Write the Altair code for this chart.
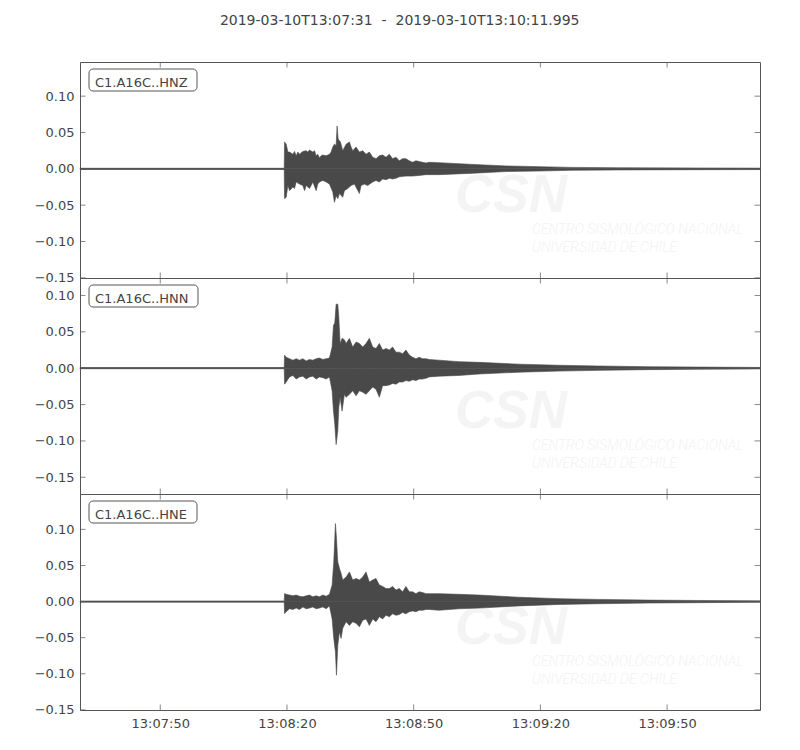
import altair as alt
import pandas as pd

# ---------------- data ----------------
title_text = "2019-03-10T13:07:31\u00a0\u00a0-\u00a0\u00a02019-03-10T13:10:11.995"
channels = ["C1.A16C..HNZ", "C1.A16C..HNN", "C1.A16C..HNE"]
box_widths = [108, 109, 108]

# equal-scale y limits of the three panels
y_domains = [[-0.1502, 0.147], [-0.173, 0.124], [-0.1502, 0.149]]
y_tick_values = [-0.15, -0.10, -0.05, 0.0, 0.05, 0.10]

# seconds after 13:07:31 (13:07:50, 13:08:20, 13:08:50, 13:09:20, 13:09:50)
x_tick_seconds = [19, 49, 79, 109, 139]

# envelopes: (seconds after 13:07:31, amplitude)
hnz_upper = [
    (0, 0.0008), (48.35, 0.0008), (48.43, 0.037), (48.82, 0.034), (49.22, 0.023),
    (49.61, 0.023), (50.40, 0.020), (50.79, 0.024), (51.19, 0.018), (51.58, 0.023),
    (51.97, 0.020), (52.76, 0.024), (53.55, 0.025), (53.94, 0.023), (54.34, 0.026),
    (55.12, 0.023), (55.52, 0.025), (55.91, 0.018), (56.31, 0.020), (56.70, 0.015),
    (57.09, 0.018), (57.49, 0.019), (58.27, 0.018), (59.06, 0.020), (59.45, 0.023),
    (59.85, 0.030), (60.24, 0.034), (60.64, 0.032), (60.87, 0.059), (61.11, 0.041),
    (61.66, 0.037), (62.21, 0.025), (63.00, 0.034), (63.79, 0.037), (64.18, 0.030),
    (64.57, 0.025), (65.36, 0.030), (66.15, 0.023), (66.94, 0.025), (67.72, 0.020),
    (68.51, 0.023), (69.30, 0.016), (70.08, 0.014), (70.87, 0.018), (71.66, 0.019),
    (72.45, 0.016), (73.23, 0.020), (74.02, 0.014), (74.81, 0.016), (75.60, 0.011),
    (76.38, 0.014), (77.17, 0.014), (77.96, 0.011), (78.75, 0.009), (79.53, 0.011),
    (80.32, 0.010), (81.11, 0.009), (81.90, 0.008), (82.68, 0.009), (85.0, 0.0085),
    (93.3, 0.006), (100.9, 0.004), (108.7, 0.003), (116.5, 0.002), (127.6, 0.0015),
    (146.5, 0.0012), (161.0, 0.001),
]
hnz_lower = [
    (0, -0.0008), (48.35, -0.0008), (48.43, -0.041), (48.82, -0.039), (49.22, -0.023),
    (49.61, -0.030), (50.40, -0.025), (50.79, -0.027), (51.19, -0.018), (51.97, -0.021),
    (52.76, -0.023), (53.16, -0.030), (53.55, -0.023), (54.34, -0.027), (54.73, -0.023),
    (55.12, -0.018), (55.91, -0.030), (56.31, -0.021), (56.70, -0.018), (57.49, -0.016),
    (58.27, -0.018), (59.06, -0.021), (59.85, -0.032), (60.24, -0.046), (60.64, -0.037),
    (61.03, -0.041), (61.42, -0.034), (62.21, -0.039), (62.60, -0.030), (63.39, -0.027),
    (64.18, -0.023), (64.97, -0.021), (66.15, -0.034), (66.54, -0.023), (67.33, -0.021),
    (68.11, -0.023), (69.30, -0.018), (70.08, -0.016), (70.87, -0.018), (71.66, -0.014),
    (72.45, -0.015), (73.23, -0.013), (74.02, -0.014), (74.81, -0.013), (75.60, -0.011),
    (77.17, -0.010), (78.75, -0.010), (80.32, -0.009), (81.90, -0.008), (85.0, -0.008),
    (93.3, -0.006), (100.9, -0.0037), (108.7, -0.003), (116.5, -0.002), (127.6, -0.0015),
    (146.5, -0.0012), (161.0, -0.001),
]

# (seconds, upper, lower)
hnn_env = [
    (0, 0.0008, -0.0008), (48.35, 0.0008, -0.0008),
    (48.43, 0.018, -0.022), (48.82, 0.015, -0.019), (49.61, 0.013, -0.012),
    (50.40, 0.011, -0.010), (51.19, 0.013, -0.015), (51.97, 0.011, -0.012),
    (52.76, 0.013, -0.011), (53.55, 0.010, -0.015), (54.34, 0.012, -0.012),
    (55.12, 0.011, -0.011), (55.91, 0.013, -0.015), (56.70, 0.014, -0.012),
    (57.49, 0.012, -0.013), (58.27, 0.013, -0.015), (59.06, 0.014, -0.012),
    (59.69, 0.029, -0.031), (60.01, 0.059, -0.059), (60.32, 0.062, -0.077),
    (60.64, 0.088, -0.105), (61.03, 0.088, -0.086), (61.27, 0.071, -0.054),
    (61.58, 0.034, -0.040), (62.05, 0.041, -0.059), (62.60, 0.039, -0.036),
    (63.00, 0.034, -0.040), (63.79, 0.041, -0.036), (64.57, 0.029, -0.031),
    (65.36, 0.036, -0.038), (66.15, 0.034, -0.031), (66.94, 0.029, -0.033),
    (67.72, 0.034, -0.036), (68.51, 0.041, -0.031), (69.30, 0.029, -0.026),
    (70.08, 0.027, -0.029), (70.87, 0.034, -0.040), (71.66, 0.025, -0.024),
    (72.45, 0.027, -0.024), (73.23, 0.025, -0.023), (74.02, 0.029, -0.021),
    (74.81, 0.022, -0.022), (75.60, 0.022, -0.019), (76.38, 0.020, -0.019),
    (77.17, 0.025, -0.017), (77.96, 0.018, -0.018), (78.75, 0.015, -0.016),
    (79.53, 0.013, -0.017), (80.32, 0.015, -0.015), (81.11, 0.013, -0.015),
    (81.90, 0.013, -0.014), (82.68, 0.012, -0.012), (85.0, 0.011, -0.011),
    (89.7, 0.009, -0.010), (94.5, 0.008, -0.008), (104.0, 0.0055, -0.0055),
    (113.4, 0.004, -0.004), (122.8, 0.003, -0.003), (134.7, 0.002, -0.002),
    (146.5, 0.0015, -0.0015), (161.0, 0.001, -0.001),
]

hne_env = [
    (0, 0.0008, -0.0008), (48.35, 0.0008, -0.0008),
    (48.43, 0.0111, -0.0167), (48.82, 0.010, -0.014), (49.61, 0.009, -0.010),
    (50.40, 0.008, -0.011), (51.19, 0.009, -0.009), (51.97, 0.0074, -0.011),
    (52.76, 0.0065, -0.0074), (53.55, 0.008, -0.010), (54.34, 0.009, -0.009),
    (55.12, 0.0065, -0.0074), (55.91, 0.008, -0.010), (56.70, 0.0065, -0.009),
    (57.49, 0.009, -0.0074), (58.27, 0.0074, -0.010), (59.06, 0.010, -0.006),
    (59.69, 0.023, -0.024), (60.08, 0.055, -0.051), (60.48, 0.108, -0.070),
    (60.72, 0.088, -0.102), (61.03, 0.055, -0.061), (61.42, 0.046, -0.042),
    (61.82, 0.039, -0.051), (62.21, 0.030, -0.037), (63.00, 0.034, -0.028),
    (63.79, 0.041, -0.033), (64.57, 0.030, -0.028), (65.36, 0.032, -0.030),
    (66.15, 0.030, -0.035), (66.94, 0.034, -0.026), (67.72, 0.041, -0.024),
    (68.51, 0.027, -0.033), (69.30, 0.030, -0.024), (70.08, 0.032, -0.028),
    (70.87, 0.023, -0.021), (71.66, 0.021, -0.024), (72.45, 0.018, -0.019),
    (73.23, 0.018, -0.021), (74.02, 0.021, -0.017), (74.81, 0.016, -0.019),
    (75.60, 0.018, -0.018), (76.38, 0.0135, -0.015), (77.17, 0.021, -0.017),
    (77.96, 0.0135, -0.014), (78.75, 0.0135, -0.013), (79.53, 0.011, -0.014),
    (80.32, 0.0135, -0.012), (81.11, 0.0125, -0.012), (81.90, 0.011, -0.011),
    (82.68, 0.011, -0.011), (85.0, 0.011, -0.012), (89.7, 0.010, -0.010),
    (94.5, 0.009, -0.009), (104.0, 0.006, -0.006), (113.4, 0.004, -0.004),
    (122.8, 0.003, -0.003), (134.7, 0.002, -0.002), (146.5, 0.0015, -0.0015),
    (161.0, 0.001, -0.001),
]

# ---------------- helpers ----------------
TRACE = "#494949"
AXIS = "#555555"
TEXT = "#444444"
FONT = "DejaVu Sans"
W, H = 680, 216


def stamp(sec):
    total = 7 * 60 + 31 + sec
    minutes = int(total // 60)
    s = total - 60 * minutes
    return "2019-03-10T13:%02d:%06.3f" % (minutes, s)


def env_frame(upper, lower):
    rows = []
    for t, v in upper:
        rows.append({"time": stamp(t), "amp": v, "base": 0.0, "side": "up"})
    for t, v in lower:
        rows.append({"time": stamp(t), "amp": v, "base": 0.0, "side": "low"})
    return pd.DataFrame(rows)


traces = [
    env_frame(hnz_upper, hnz_lower),
    env_frame([(t, u) for t, u, _ in hnn_env], [(t, l) for t, _, l in hnn_env]),
    env_frame([(t, u) for t, u, _ in hne_env], [(t, l) for t, _, l in hne_env]),
]

x_domain = [
    alt.DateTime(year=2019, month=3, date=10, hours=13, minutes=7, seconds=31),
    alt.DateTime(year=2019, month=3, date=10, hours=13, minutes=10, seconds=11,
                 milliseconds=995),
]
x_tick_dt = [
    alt.DateTime(year=2019, month=3, date=10, hours=13,
                 minutes=(7 * 60 + 31 + s) // 60,
                 seconds=(7 * 60 + 31 + s) % 60)
    for s in x_tick_seconds
]
xtick_df = pd.DataFrame({"time": [stamp(s) for s in x_tick_seconds]})
ytick_df = pd.DataFrame({"amp": y_tick_values})


def panel(i, bottom):
    if bottom:
        x_axis = alt.Axis(values=x_tick_dt, format="%H:%M:%S", tickSize=0,
                          domain=False, grid=False, labelPadding=7, title=None,
                          labelFont=FONT, labelFontSize=13, labelColor=TEXT)
    else:
        x_axis = None
    x_enc = alt.X("time:T", scale=alt.Scale(domain=x_domain, nice=False),
                  axis=x_axis)
    y_enc = alt.Y("amp:Q",
                  scale=alt.Scale(domain=y_domains[i], nice=False, zero=False),
                  axis=alt.Axis(values=y_tick_values, format=".2f", tickSize=0,
                                domain=False, grid=False, labelPadding=6,
                                title=None, labelFont=FONT, labelFontSize=13,
                                labelColor=TEXT))

    one = pd.DataFrame({"label": [channels[i]]})

    wm_csn = alt.Chart(one).mark_text(
        text="CSN", font="Liberation Sans", fontSize=53, fontWeight="bold",
        fontStyle="italic", color="#f4f4f4", align="left", baseline="alphabetic"
    ).encode(x=alt.value(375), y=alt.value(150))
    wm_l1 = alt.Chart(one).mark_text(
        text="CENTRO SISMOLÓGICO NACIONAL", font="Roboto", fontWeight=300,
        fontSize=14, fontStyle="italic", color="#f3f3f3", align="left",
        baseline="alphabetic"
    ).encode(x=alt.value(452), y=alt.value(172))
    wm_l2 = alt.Chart(one).mark_text(
        text="UNIVERSIDAD DE CHILE", font="Roboto", fontWeight=300,
        fontSize=14, fontStyle="italic", color="#f3f3f3", align="left",
        baseline="alphabetic"
    ).encode(x=alt.value(452), y=alt.value(190))

    area = alt.Chart(traces[i]).mark_area(
        color=TRACE, stroke=TRACE, strokeWidth=0.6, interpolate="linear"
    ).encode(x=x_enc, y=y_enc, y2="base:Q", detail="side:N")

    tk_top = alt.Chart(xtick_df).mark_tick(color=AXIS, thickness=1, size=5.5).encode(
        x=x_enc, y=alt.value(2.75))
    tk_bot = alt.Chart(xtick_df).mark_tick(color=AXIS, thickness=1, size=5.5).encode(
        x=x_enc, y=alt.value(H - 2.75))
    tk_left = alt.Chart(ytick_df).mark_tick(color=AXIS, thickness=1, size=5.5).encode(
        y=y_enc, x=alt.value(2.75))
    tk_right = alt.Chart(ytick_df).mark_tick(color=AXIS, thickness=1, size=5.5).encode(
        y=y_enc, x=alt.value(W - 2.75))

    box = alt.Chart(one).mark_rect(
        fill="white", stroke=AXIS, strokeWidth=1, cornerRadius=4
    ).encode(x=alt.value(9), x2=alt.value(9 + box_widths[i]),
             y=alt.value(7), y2=alt.value(29))
    lab = alt.Chart(one).mark_text(
        align="left", baseline="alphabetic", font=FONT, fontSize=13, color=TEXT
    ).encode(x=alt.value(15), y=alt.value(24.5), text="label:N")

    return alt.layer(wm_csn, wm_l1, wm_l2, area, tk_top, tk_bot, tk_left,
                     tk_right, box, lab).properties(width=W, height=H)


chart = alt.vconcat(
    panel(0, False), panel(1, False), panel(2, True), spacing=0, bounds="flush"
).properties(
    title=alt.TitleParams(title_text, font=FONT, fontSize=14, fontWeight="normal",
                          color=TEXT, anchor="middle", offset=34, dx=2),
    padding={"left": 25, "top": 5, "right": 5, "bottom": 0},
).configure_view(stroke=AXIS, strokeWidth=1)

chart.save("out.html", embed_options={"renderer": "svg", "actions": False})
